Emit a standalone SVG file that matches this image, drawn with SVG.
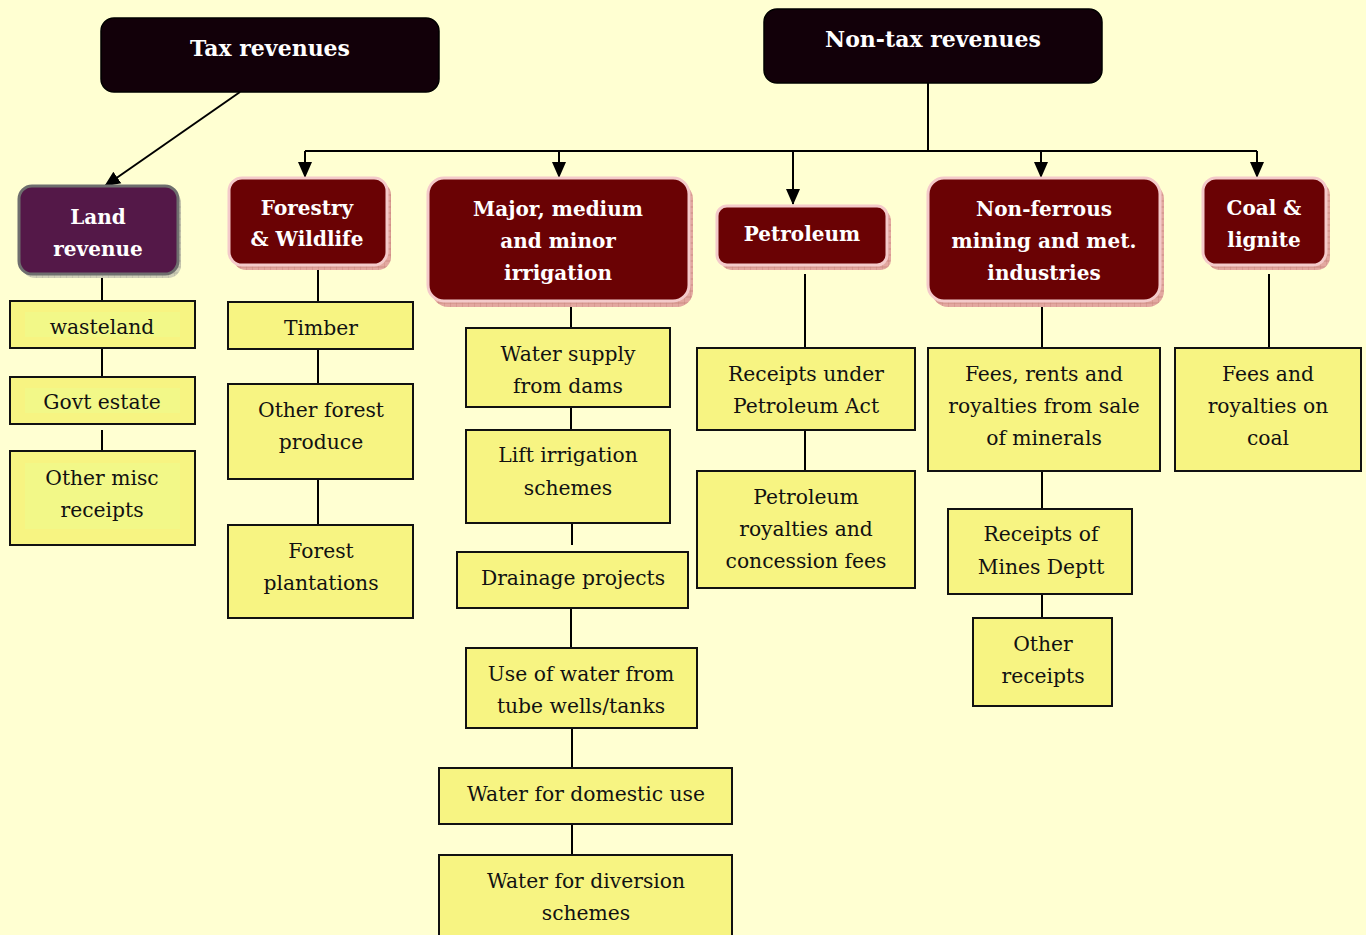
<svg xmlns="http://www.w3.org/2000/svg" width="1366" height="935" viewBox="0 0 1366 935">
<defs>
<marker id="ah2" markerWidth="16" markerHeight="16" refX="15" refY="8" orient="auto" markerUnits="userSpaceOnUse" viewBox="0 0 16 16">
<path d="M0,1 L16,8 L0,15 Z" fill="#000"/>
</marker>
<pattern id="hatch" width="6" height="6" patternUnits="userSpaceOnUse">
<rect width="6" height="6" fill="#E3A8A0"/>
<path d="M0,0 V6 M0,3 H6" stroke="#C07870" stroke-width="0.6"/>
</pattern>
<pattern id="hatchg" width="6" height="6" patternUnits="userSpaceOnUse">
<rect width="6" height="6" fill="#D0D0B8"/>
<path d="M0,0 V6 M0,3 H6" stroke="#A0A090" stroke-width="0.6"/>
</pattern>
</defs>
<style>
.hdr{fill:#120009;stroke:#000;stroke-width:1.5}
.hdrt{font-family:"DejaVu Serif","Liberation Serif",serif;font-weight:bold;font-size:22px;fill:#fff;text-anchor:middle}
.dk{fill:#6A0204;stroke:#F4CACA;stroke-width:3}
.dksh{fill:url(#hatch)}
.dkt{font-family:"DejaVu Serif","Liberation Serif",serif;font-weight:bold;font-size:20px;fill:#fff;text-anchor:middle}
.yb{fill:#F7F482;stroke:#111;stroke-width:2}
.yi{fill:#F2F888}
.yt{font-family:"DejaVu Serif","Liberation Serif",serif;font-size:20.3px;fill:#111;text-anchor:middle}
.ln{stroke:#000;stroke-width:2;fill:none}
</style>
<rect width="1366" height="935" fill="#FFFFD2"/>

<g id="connectors">
<line class="ln" x1="240" y1="92" x2="105" y2="186" marker-end="url(#ah2)"/>
<polyline class="ln" points="928,83 928,151"/>
<line class="ln" x1="305" y1="151" x2="1257" y2="151"/>
<line class="ln" x1="305" y1="151" x2="305" y2="177" marker-end="url(#ah2)"/>
<line class="ln" x1="559" y1="151" x2="559" y2="177" marker-end="url(#ah2)"/>
<line class="ln" x1="793" y1="151" x2="793" y2="204" marker-end="url(#ah2)"/>
<line class="ln" x1="1041" y1="151" x2="1041" y2="177" marker-end="url(#ah2)"/>
<line class="ln" x1="1257" y1="151" x2="1257" y2="177" marker-end="url(#ah2)"/>
<line class="ln" x1="102" y1="274" x2="102" y2="301"/>
<line class="ln" x1="102" y1="348" x2="102" y2="377"/>
<line class="ln" x1="102" y1="430" x2="102" y2="451"/>
<line class="ln" x1="318" y1="268" x2="318" y2="302"/>
<line class="ln" x1="318" y1="349" x2="318" y2="384"/>
<line class="ln" x1="318" y1="479" x2="318" y2="525"/>
<line class="ln" x1="571" y1="304" x2="571" y2="328"/>
<line class="ln" x1="571" y1="407" x2="571" y2="430"/>
<line class="ln" x1="572" y1="523" x2="572" y2="545"/>
<line class="ln" x1="571" y1="608" x2="571" y2="648"/>
<line class="ln" x1="572" y1="728" x2="572" y2="768"/>
<line class="ln" x1="572" y1="824" x2="572" y2="855"/>
<line class="ln" x1="805" y1="274" x2="805" y2="348"/>
<line class="ln" x1="805" y1="430" x2="805" y2="471"/>
<line class="ln" x1="1042" y1="304" x2="1042" y2="348"/>
<line class="ln" x1="1042" y1="471" x2="1042" y2="509"/>
<line class="ln" x1="1042" y1="594" x2="1042" y2="618"/>
<line class="ln" x1="1269" y1="274" x2="1269" y2="348"/>
</g>

<g id="tax">
<rect class="hdr" x="101" y="18" width="338" height="74" rx="13"/>
<text class="hdrt" x="270" y="56">Tax revenues</text>
</g>
<g id="nontax">
<rect class="hdr" x="764" y="9" width="338" height="74" rx="13"/>
<text class="hdrt" x="933" y="47">Non-tax revenues</text>
</g>

<g id="land">
<rect x="22" y="190" width="159" height="88" rx="13" fill="url(#hatchg)"/>
<rect x="19" y="186" width="159" height="88" rx="13" fill="#541848" stroke="#6E6E6E" stroke-width="3"/>
<text class="dkt" x="98" y="224">Land</text>
<text class="dkt" x="98" y="256">revenue</text>
</g>
<g id="forestry">
<rect class="dksh" x="233" y="182" width="158" height="88" rx="13"/>
<rect class="dk" x="229" y="178" width="158" height="87" rx="13"/>
<text class="dkt" x="307" y="215">Forestry</text>
<text class="dkt" x="307" y="246">&amp; Wildlife</text>
</g>
<g id="irrigation">
<rect class="dksh" x="432" y="183" width="261" height="124" rx="16"/>
<rect class="dk" x="428" y="178" width="261" height="123" rx="16"/>
<text class="dkt" x="558" y="216">Major, medium</text>
<text class="dkt" x="558" y="248">and minor</text>
<text class="dkt" x="558" y="280">irrigation</text>
</g>
<g id="petroleum">
<rect class="dksh" x="721" y="210" width="170" height="60" rx="10"/>
<rect class="dk" x="717" y="206" width="170" height="59" rx="10"/>
<text class="dkt" x="802" y="241">Petroleum</text>
</g>
<g id="nonferrous">
<rect class="dksh" x="932" y="183" width="232" height="124" rx="16"/>
<rect class="dk" x="928" y="178" width="232" height="123" rx="16"/>
<text class="dkt" x="1044" y="216">Non-ferrous</text>
<text class="dkt" x="1044" y="248">mining and met.</text>
<text class="dkt" x="1044" y="280">industries</text>
</g>
<g id="coal">
<rect class="dksh" x="1207" y="182" width="123" height="88" rx="13"/>
<rect class="dk" x="1203" y="178" width="123" height="87" rx="13"/>
<text class="dkt" x="1264" y="215">Coal &amp;</text>
<text class="dkt" x="1264" y="247">lignite</text>
</g>

<g id="wasteland">
<rect class="yb" x="10" y="301" width="185" height="47"/>
<rect class="yi" x="25" y="312" width="155" height="25"/>
<text class="yt" x="102" y="334">wasteland</text>
</g>
<g id="govt">
<rect class="yb" x="10" y="377" width="185" height="47"/>
<rect class="yi" x="25" y="388" width="155" height="25"/>
<text class="yt" x="102" y="409">Govt estate</text>
</g>
<g id="othermisc">
<rect class="yb" x="10" y="451" width="185" height="94"/>
<rect class="yi" x="25" y="463" width="155" height="66"/>
<text class="yt" x="102" y="485">Other misc</text>
<text class="yt" x="102" y="517">receipts</text>
</g>

<g id="timber">
<rect class="yb" x="228" y="302" width="185" height="47"/>
<text class="yt" x="321" y="335">Timber</text>
</g>
<g id="otherforest">
<rect class="yb" x="228" y="384" width="185" height="95"/>
<text class="yt" x="321" y="417">Other forest</text>
<text class="yt" x="321" y="449">produce</text>
</g>
<g id="plantations">
<rect class="yb" x="228" y="525" width="185" height="93"/>
<text class="yt" x="321" y="558">Forest</text>
<text class="yt" x="321" y="590">plantations</text>
</g>

<g id="dams">
<rect class="yb" x="466" y="328" width="204" height="79"/>
<text class="yt" x="568" y="361">Water supply</text>
<text class="yt" x="568" y="393">from dams</text>
</g>
<g id="lift">
<rect class="yb" x="466" y="430" width="204" height="93"/>
<text class="yt" x="568" y="462">Lift irrigation</text>
<text class="yt" x="568" y="495">schemes</text>
</g>
<g id="drainage">
<rect class="yb" x="457" y="552" width="231" height="56"/>
<text class="yt" x="573" y="585">Drainage projects</text>
</g>
<g id="tubewells">
<rect class="yb" x="466" y="648" width="231" height="80"/>
<text class="yt" x="581" y="681">Use of water from</text>
<text class="yt" x="581" y="713">tube wells/tanks</text>
</g>
<g id="domestic">
<rect class="yb" x="439" y="768" width="293" height="56"/>
<text class="yt" x="586" y="801">Water for domestic use</text>
</g>
<g id="diversion">
<rect class="yb" x="439" y="855" width="293" height="90"/>
<text class="yt" x="586" y="888">Water for diversion</text>
<text class="yt" x="586" y="920">schemes</text>
</g>

<g id="petact">
<rect class="yb" x="697" y="348" width="218" height="82"/>
<text class="yt" x="806" y="381">Receipts under</text>
<text class="yt" x="806" y="413">Petroleum Act</text>
</g>
<g id="petroyal">
<rect class="yb" x="697" y="471" width="218" height="117"/>
<text class="yt" x="806" y="504">Petroleum</text>
<text class="yt" x="806" y="536">royalties and</text>
<text class="yt" x="806" y="568">concession fees</text>
</g>

<g id="fees">
<rect class="yb" x="928" y="348" width="232" height="123"/>
<text class="yt" x="1044" y="381">Fees, rents and</text>
<text class="yt" x="1044" y="413">royalties from sale</text>
<text class="yt" x="1044" y="445">of minerals</text>
</g>
<g id="mines">
<rect class="yb" x="948" y="509" width="184" height="85"/>
<text class="yt" x="1041" y="541">Receipts of</text>
<text class="yt" x="1041" y="574">Mines Deptt</text>
</g>
<g id="otherreceipts">
<rect class="yb" x="973" y="618" width="139" height="88"/>
<text class="yt" x="1043" y="651">Other</text>
<text class="yt" x="1043" y="683">receipts</text>
</g>

<g id="coalfees">
<rect class="yb" x="1175" y="348" width="186" height="123"/>
<text class="yt" x="1268" y="381">Fees and</text>
<text class="yt" x="1268" y="413">royalties on</text>
<text class="yt" x="1268" y="445">coal</text>
</g>
</svg>
